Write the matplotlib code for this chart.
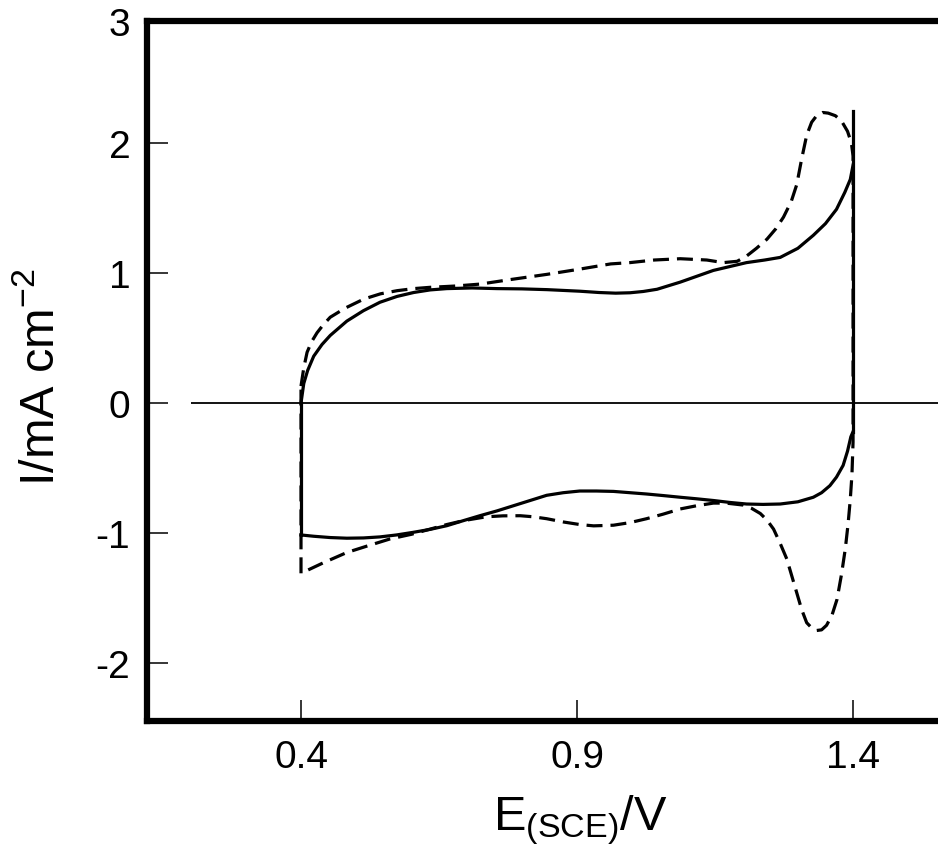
import numpy as np
import matplotlib
matplotlib.use("Agg")
import matplotlib.pyplot as plt

plt.rcParams['font.family'] = ['Liberation Sans', 'DejaVu Sans']
plt.rcParams['mathtext.default'] = 'regular'
plt.rcParams['axes.unicode_minus'] = False

# --- data (E in V vs SCE, I in mA cm-2) ---
# solid curve, forward (anodic) sweep 0.4 -> 1.4 V
solid_fwd_E = [0.400, 0.405, 0.412, 0.423, 0.438, 0.453, 0.483, 0.513, 0.543, 0.574,
               0.604, 0.634, 0.664, 0.710, 0.755, 0.800, 0.846, 0.905, 0.940, 0.970,
               0.996, 1.020, 1.045, 1.087, 1.147, 1.207, 1.240, 1.268, 1.300, 1.328,
               1.350, 1.370, 1.385, 1.395, 1.400]
solid_fwd_I = [0.00, 0.15, 0.25, 0.36, 0.45, 0.52, 0.63, 0.71, 0.775, 0.82,
               0.85, 0.87, 0.88, 0.885, 0.88, 0.878, 0.872, 0.86, 0.85, 0.845,
               0.848, 0.858, 0.875, 0.93, 1.02, 1.08, 1.10, 1.12, 1.19, 1.29,
               1.38, 1.49, 1.62, 1.72, 1.83]
# solid curve, reverse (cathodic) sweep 1.4 -> 0.4 V
solid_rev_E = [1.400, 1.396, 1.390, 1.382, 1.370, 1.358, 1.343, 1.328, 1.300, 1.268,
               1.237, 1.207, 1.177, 1.147, 1.117, 1.087, 1.056, 1.026, 0.996, 0.966,
               0.935, 0.905, 0.875, 0.845, 0.815, 0.785, 0.755, 0.724, 0.694, 0.664,
               0.634, 0.603, 0.573, 0.543, 0.513, 0.483, 0.453, 0.423, 0.400]
solid_rev_I = [-0.22, -0.26, -0.37, -0.48, -0.57, -0.636, -0.69, -0.725, -0.76, -0.777,
               -0.78, -0.777, -0.765, -0.75, -0.737, -0.725, -0.712, -0.70, -0.69, -0.68,
               -0.677, -0.677, -0.69, -0.71, -0.75, -0.79, -0.83, -0.867, -0.905, -0.944,
               -0.972, -0.995, -1.015, -1.03, -1.038, -1.04, -1.035, -1.025, -1.015]
# vertical switching segment of the solid curve at 1.4 V
solid_top_1p4 = 2.25

# dashed curve, forward sweep
dash_fwd_E = [0.400, 0.405, 0.411, 0.419, 0.429, 0.440, 0.453, 0.480, 0.514, 0.544,
              0.574, 0.604, 0.634, 0.680, 0.725, 0.780, 0.846, 0.905, 0.961, 0.996,
              1.040, 1.087, 1.135, 1.165, 1.190, 1.207, 1.225, 1.244, 1.260, 1.274,
              1.288, 1.298, 1.307, 1.316, 1.325, 1.334, 1.345, 1.355, 1.368, 1.379,
              1.390, 1.397, 1.400]
dash_fwd_I = [0.13, 0.27, 0.39, 0.47, 0.54, 0.60, 0.66, 0.73, 0.80, 0.84,
              0.864, 0.88, 0.89, 0.90, 0.915, 0.95, 0.99, 1.03, 1.07, 1.08,
              1.10, 1.11, 1.10, 1.08, 1.09, 1.13, 1.19, 1.26, 1.34, 1.43,
              1.55, 1.68, 1.88, 2.06, 2.16, 2.21, 2.235, 2.23, 2.21, 2.17,
              2.09, 2.00, 1.90]
# dashed curve, reverse sweep
dash_rev_E = [1.400, 1.398, 1.395, 1.391, 1.386, 1.379, 1.371, 1.362, 1.352, 1.343,
              1.334, 1.325, 1.316, 1.307, 1.298, 1.289, 1.280, 1.268, 1.256, 1.244,
              1.232, 1.216, 1.201, 1.170, 1.147, 1.117, 1.087, 1.056, 1.026, 0.996,
              0.966, 0.930, 0.905, 0.875, 0.845, 0.820, 0.797, 0.766, 0.736, 0.694,
              0.664, 0.634, 0.600, 0.561, 0.520, 0.483, 0.440, 0.400]
dash_rev_I = [-0.30, -0.55, -0.74, -0.93, -1.12, -1.32, -1.51, -1.63, -1.71, -1.745,
              -1.75, -1.73, -1.69, -1.59, -1.46, -1.33, -1.20, -1.08, -0.97, -0.90,
              -0.85, -0.81, -0.785, -0.77, -0.77, -0.79, -0.815, -0.855, -0.89, -0.92,
              -0.94, -0.945, -0.935, -0.915, -0.89, -0.875, -0.867, -0.868, -0.875, -0.905,
              -0.935, -0.97, -1.01, -1.046, -1.10, -1.15, -1.23, -1.31]

x_ticks = [0.4, 0.9, 1.4]
x_ticklabels = ['0.4', '0.9', '1.4']
y_ticks = [-2, -1, 0, 1, 2]
y_ticklabels = ['-2', '-1', '0', '1', '2']
zero_line_start = 0.2

fig = plt.figure(figsize=(9.38, 8.54), dpi=100)
# right spine sits outside the picture, like in the cropped scan
ax = fig.add_axes([0.1567, 0.1549, 0.8987, 0.8197])
ax.set_xlim(0.121, 1.648)
ax.set_ylim(-2.444, 2.941)

lw = 2.3
ax.hlines(0, zero_line_start, 1.648, color='black', lw=1.3)

# solid loop
ax.plot(solid_fwd_E, solid_fwd_I, color='black', lw=lw, solid_joinstyle='round')
ax.plot([1.4, 1.4], [solid_top_1p4, solid_rev_I[0]], color='black', lw=lw)
ax.plot(solid_rev_E, solid_rev_I, color='black', lw=lw, solid_joinstyle='round')
ax.plot([0.4, 0.4], [solid_rev_I[-1], solid_fwd_I[0]], color='black', lw=lw)

# dashed loop
dash_E = dash_fwd_E + dash_rev_E + [0.4]
dash_I = dash_fwd_I + dash_rev_I + [dash_fwd_I[0]]
ax.plot(dash_E, dash_I, color='black', lw=lw, ls=(0, (5, 2.5)))

for s in ax.spines.values():
    s.set_linewidth(4.5)

ax.set_xticks(x_ticks, x_ticklabels)
ax.set_yticks(y_ticks + [2.941], y_ticklabels + ['3'])
ax.tick_params(direction='in', length=15, width=1.1, labelsize=28)
ax.tick_params(axis='x', pad=13)
ax.tick_params(axis='y', pad=12)

ax.set_xlabel('E$_{(SCE)}$/V', fontsize=35)
ax.xaxis.set_label_coords(0.514, -0.102)
ax.set_ylabel('I/mA cm$^{-2}$', fontsize=35, va='center')
ax.yaxis.set_label_coords(-0.1257, 0.4924)

fig.savefig('out.png', dpi=100)
